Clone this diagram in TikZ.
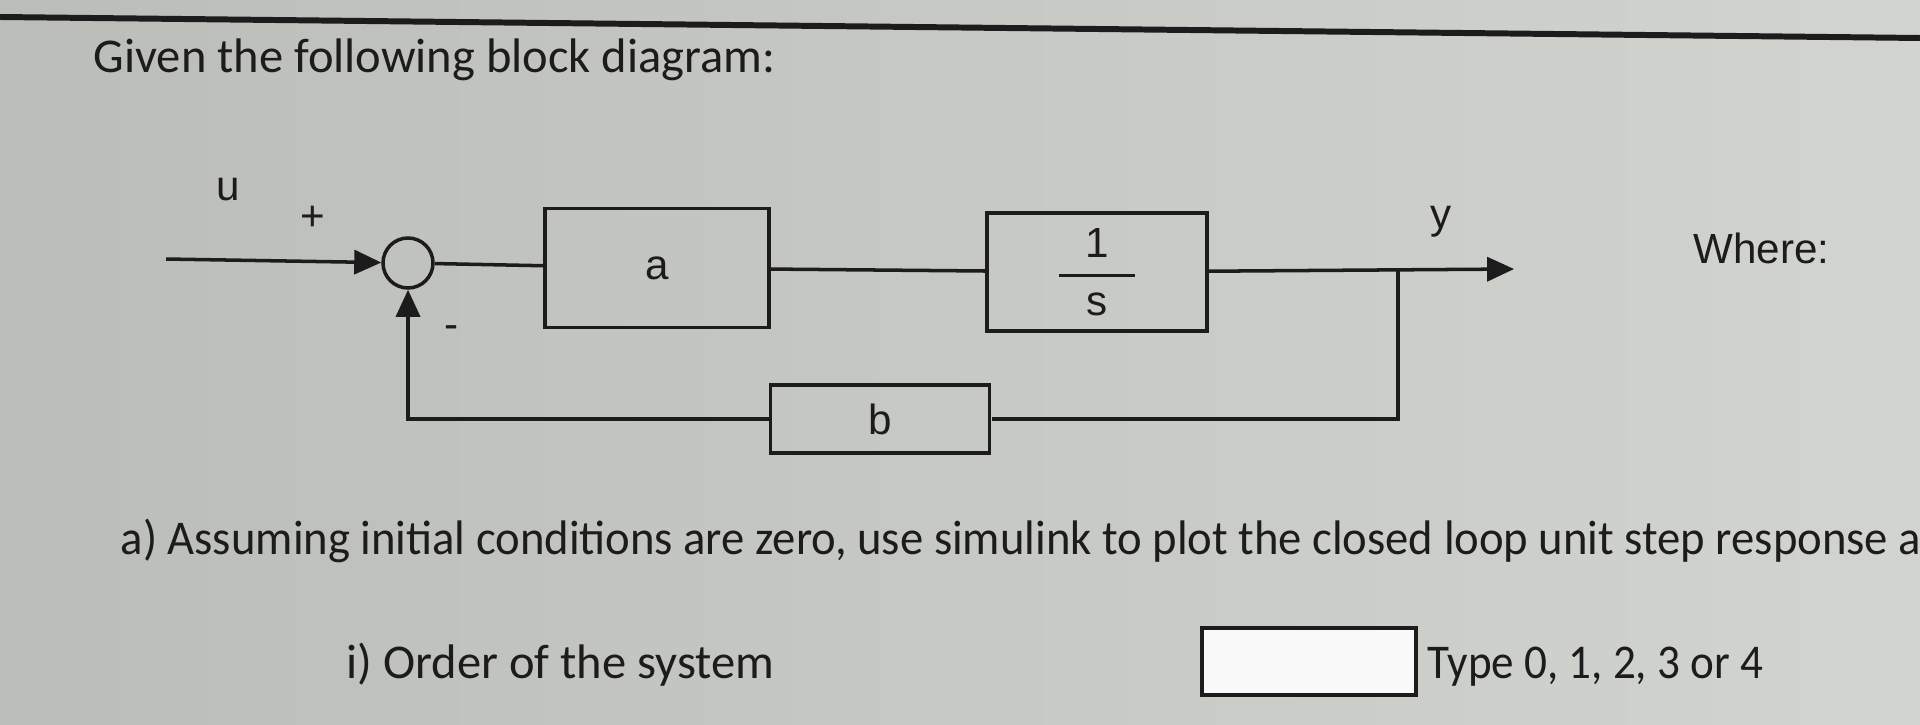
\documentclass[tikz,border=0pt]{standalone}
\usepackage{fontspec}
\usepackage{amsmath}
\setmainfont{Carlito}
\newfontfamily\arialfont{Liberation Sans}
\usetikzlibrary{arrows.meta}
\definecolor{bgl}{HTML}{BABDB8}
\definecolor{bgr}{HTML}{D2D4D0}
\definecolor{ink}{HTML}{1C1C1C}

\begin{document}
\begin{tikzpicture}[scale=0.1,
  block/.style={draw=ink,line width=1.1pt,inner sep=0pt,text=ink,font=\arialfont\fontsize{12}{14}\selectfont},
  sig/.style={draw=ink,line width=1pt},
  tip/.style={-{Triangle[length=2.7mm,width=2.4mm]}},
  lbl/.style={inner sep=0pt,text=ink,font=\arialfont\fontsize{12}{14}\selectfont},
  txt/.style={inner sep=0pt,anchor=base west,text=ink,font=\fontsize{13.8}{16}\selectfont}]
\useasboundingbox (0,0) rectangle (192,-72.4);
\clip (0,0) rectangle (192,-72.4);
\shade[left color=bgl,right color=bgr] (0,0) rectangle (192,-72.4);
\draw[ink,line width=1.7pt] (0,-1.7) -- (192,-3.8);
% title
\node[txt] (given) at (9.3,-7.3) {Given the following block diagram:};
% blocks
\node[circle,draw=ink,line width=1pt,minimum size=5mm,inner sep=0pt] (sum) at (40.8,-26.3) {};
\node[block,minimum width=22.4mm,minimum height=11.9mm] (a) at (65.7,-26.8) {a};
\node[block,minimum width=22mm,minimum height=11.8mm] (tf) at (109.7,-27.2)
  {$\genfrac{}{}{1.1pt}{0}{\makebox[7.6mm]{1}}{\makebox[7.6mm]{s}}$};
\node[block,minimum width=21.9mm,minimum height=6.8mm] (b) at (88,-41.9) {b};
\coordinate (in) at (16.6,-25.9);
\coordinate (split) at (139.8,-26.9);
\coordinate (out) at (151.4,-26.9);
% connectors
\draw[sig,tip] (in) -- (sum);
\draw[sig] (sum) -- (a);
\draw[sig] (a) -- (tf);
\draw[sig,tip] (tf) -- (out);
\draw[sig] (split) |- (b);
\draw[sig,tip] (b) -| (sum);
% labels
\node[lbl] (ulbl) at (22.8,-19.0) {u};
\node[lbl] (plus) at (31.3,-21.8) {+};
\node[lbl] (minus) at (45.2,-33.2) {-};
\node[lbl] (ylbl) at (144.1,-22.2) {y};
\node[lbl,anchor=west] (where) at (169.3,-24.8) {Where:};
% question
\node[txt] (qa) at (12.0,-55.4) {\scalebox{0.962}[1]{a) Assuming initial conditions are zero, use simulink to plot the closed loop unit step response a}};
\node[txt] (qi) at (34.6,-67.8) {i) Order of the system};
\node[draw=ink,line width=1.3pt,fill=white!85!bgr,minimum width=21.4mm,minimum height=6.7mm,inner sep=0pt] (ans) at (130.9,-66.15) {};
\node[txt] (hint) at (142.7,-67.8) {\scalebox{0.93}[1]{Type 0, 1, 2, 3 or 4}};
\end{tikzpicture}
\end{document}
